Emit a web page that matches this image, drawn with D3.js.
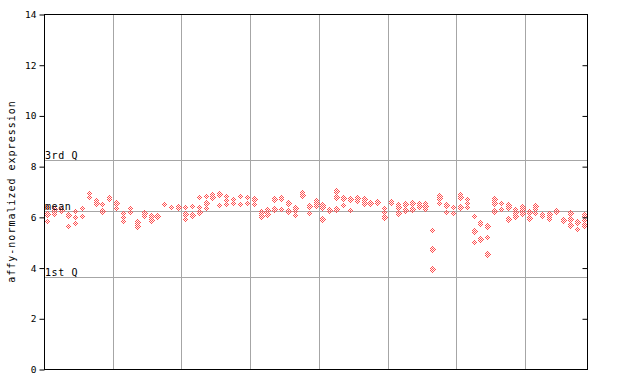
<!DOCTYPE html>
<html><head><meta charset="utf-8">
<script src="https://cdn.jsdelivr.net/npm/d3@7"></script>
<style>
html,body{margin:0;padding:0;background:#fff;}
svg text{font-family:"DejaVu Sans Mono",monospace;}
</style></head>
<body>
<svg id="chart" width="640" height="384"></svg>
<script>
// replicate values per sample (column index = position in array)
const rep1 = [6.40,6.30,6.30,6.07,6.24,6.33,6.95,6.65,6.50,6.78,6.56,6.14,6.33,5.81,6.17,6.05,6.05,6.50,6.40,6.40,
  6.37,6.43,6.77,6.82,6.92,6.90,6.82,6.69,6.82,6.77,6.70,6.24,6.31,6.71,6.80,6.53,6.33,6.98,6.43,6.66,
  6.47,6.27,7.02,6.73,6.69,6.73,6.69,6.60,6.64,6.33,6.64,6.49,6.49,6.56,6.53,6.53,5.48,6.83,6.49,6.40,
  6.92,6.69,6.03,5.81,5.64,6.69,6.56,6.47,6.30,6.40,6.20,6.43,6.11,6.11,6.26,5.92,6.14,5.83,6.07];
const rep2 = [6.10,6.19,6.28,5.64,5.98,6.03,6.77,6.55,6.24,6.70,6.36,6.00,6.20,5.66,6.14,6.02,6.02,null,6.37,6.36,
  6.10,6.07,6.38,6.53,6.77,6.48,6.66,6.56,6.50,6.53,6.67,6.21,6.28,6.68,6.69,6.28,6.24,6.85,6.40,6.56,
  6.37,6.24,6.77,6.47,6.27,6.70,6.53,6.55,6.60,6.20,6.56,6.37,6.27,6.49,6.45,6.43,4.72,6.73,6.46,6.14,
  6.77,6.53,5.44,5.72,5.22,6.53,6.53,6.40,6.20,6.30,5.94,6.30,6.03,6.00,6.22,5.89,5.90,5.80,5.88];
const rep3 = [5.85,6.10,null,null,5.75,null,null,null,null,null,null,5.85,null,5.62,6.05,5.88,null,null,null,null,
  5.90,null,6.20,6.33,null,6.45,6.50,6.53,null,null,6.50,6.03,6.11,6.31,6.31,6.25,6.07,6.82,6.17,6.43,
  5.90,null,6.30,null,null,6.64,null,6.52,null,6.00,null,6.14,null,6.30,6.42,6.30,3.94,6.56,6.20,null,
  6.38,6.38,5.00,5.12,4.53,6.24,6.30,5.90,6.03,6.14,null,6.17,null,5.90,null,null,5.68,5.51,5.68];
const yTicks = [0,2,4,6,8,10,12,14];
const rightTicks = [2,4,6,8,10,12];
const quantileLabels = ["3rd Q","mean","1st Q"];
const quantileValues = [8.23,6.22,3.62];
const yTitle = "affy-normalized expression";

const nSamples = rep1.length;
const svg = d3.select("#chart");
const L = 44, R = 587, T = 14, B = 369;
const x = d3.scaleLinear().domain([0, nSamples]).range([L, R]);
const y = d3.scaleLinear().domain([0, 14]).range([B, T]);
const red = "#ff4f4f";

const defs = svg.append("defs");
const pat = defs.append("pattern").attr("id","dith").attr("width",2).attr("height",2)
  .attr("patternUnits","userSpaceOnUse");
pat.append("rect").attr("x",0).attr("y",0).attr("width",1).attr("height",1).attr("fill",red);
pat.append("rect").attr("x",1).attr("y",1).attr("width",1).attr("height",1).attr("fill",red);

// vertical grid lines every 10 samples
const gridX = d3.range(10, nSamples, 10);
svg.append("g").selectAll("line").data(gridX).join("line")
  .attr("x1", d => Math.round(x(d)) + 0.5).attr("x2", d => Math.round(x(d)) + 0.5)
  .attr("y1", T).attr("y2", B).attr("stroke", "#a6a6a6").attr("stroke-width", 1);

// quantile lines
svg.append("g").selectAll("line").data(quantileValues).join("line")
  .attr("x1", L).attr("x2", R)
  .attr("y1", d => Math.round(y(d)) + 0.5).attr("y2", d => Math.round(y(d)) + 0.5)
  .attr("stroke", "#a6a6a6").attr("stroke-width", 1);

// points
const pts = [];
[rep1, rep2, rep3].forEach(arr => arr.forEach((v, i) => { if (v != null) pts.push({i, v}); }));
svg.append("g").selectAll("path").data(pts).join("path")
  .attr("d", d => {
    const cx = Math.round(x(d.i + 0.5)), cy = Math.round(y(d.v));
    return `M${cx+0.5},${cy-3.5}L${cx+3.5},${cy+0.5}L${cx+0.5},${cy+4.5}L${cx-2.5},${cy+0.5}Z`;
  })
  .attr("fill", "url(#dith)")
  .attr("shape-rendering", "crispEdges");

// quantile labels
svg.append("g").selectAll("text").data(quantileLabels).join("text")
  .attr("x", L + 1)
  .attr("y", (d, k) => Math.round(y(quantileValues[k])) - 1)
  .attr("font-size", 10).attr("letter-spacing", 0.6).attr("fill", "#000")
  .text(d => d);

// frame
svg.append("rect").attr("x", L + 0.5).attr("y", T + 0.5).attr("width", R - L).attr("height", B - T)
  .attr("fill", "none").attr("stroke", "#000").attr("stroke-width", 1);

// left axis
const gl = svg.append("g").attr("transform", `translate(${L + 0.5},0.5)`)
  .call(d3.axisLeft(y).tickValues(yTicks).tickSize(5).tickPadding(3).tickFormat(d3.format("d")));
gl.select(".domain").remove();
gl.selectAll("text").attr("font-family", "DejaVu Sans Mono, monospace").attr("font-size", 9.5);

// right axis ticks (inward)
const gr = svg.append("g").attr("transform", `translate(${R + 0.5},0.5)`)
  .call(d3.axisRight(y).tickValues(rightTicks).tickSize(-5).tickFormat(""));
gr.select(".domain").remove();

// y title
svg.append("text")
  .attr("transform", `translate(15,191.5) rotate(-90)`)
  .attr("text-anchor", "middle")
  .attr("font-size", 10).attr("letter-spacing", 1).attr("fill", "#000")
  .text(yTitle);
</script>
</body></html>
